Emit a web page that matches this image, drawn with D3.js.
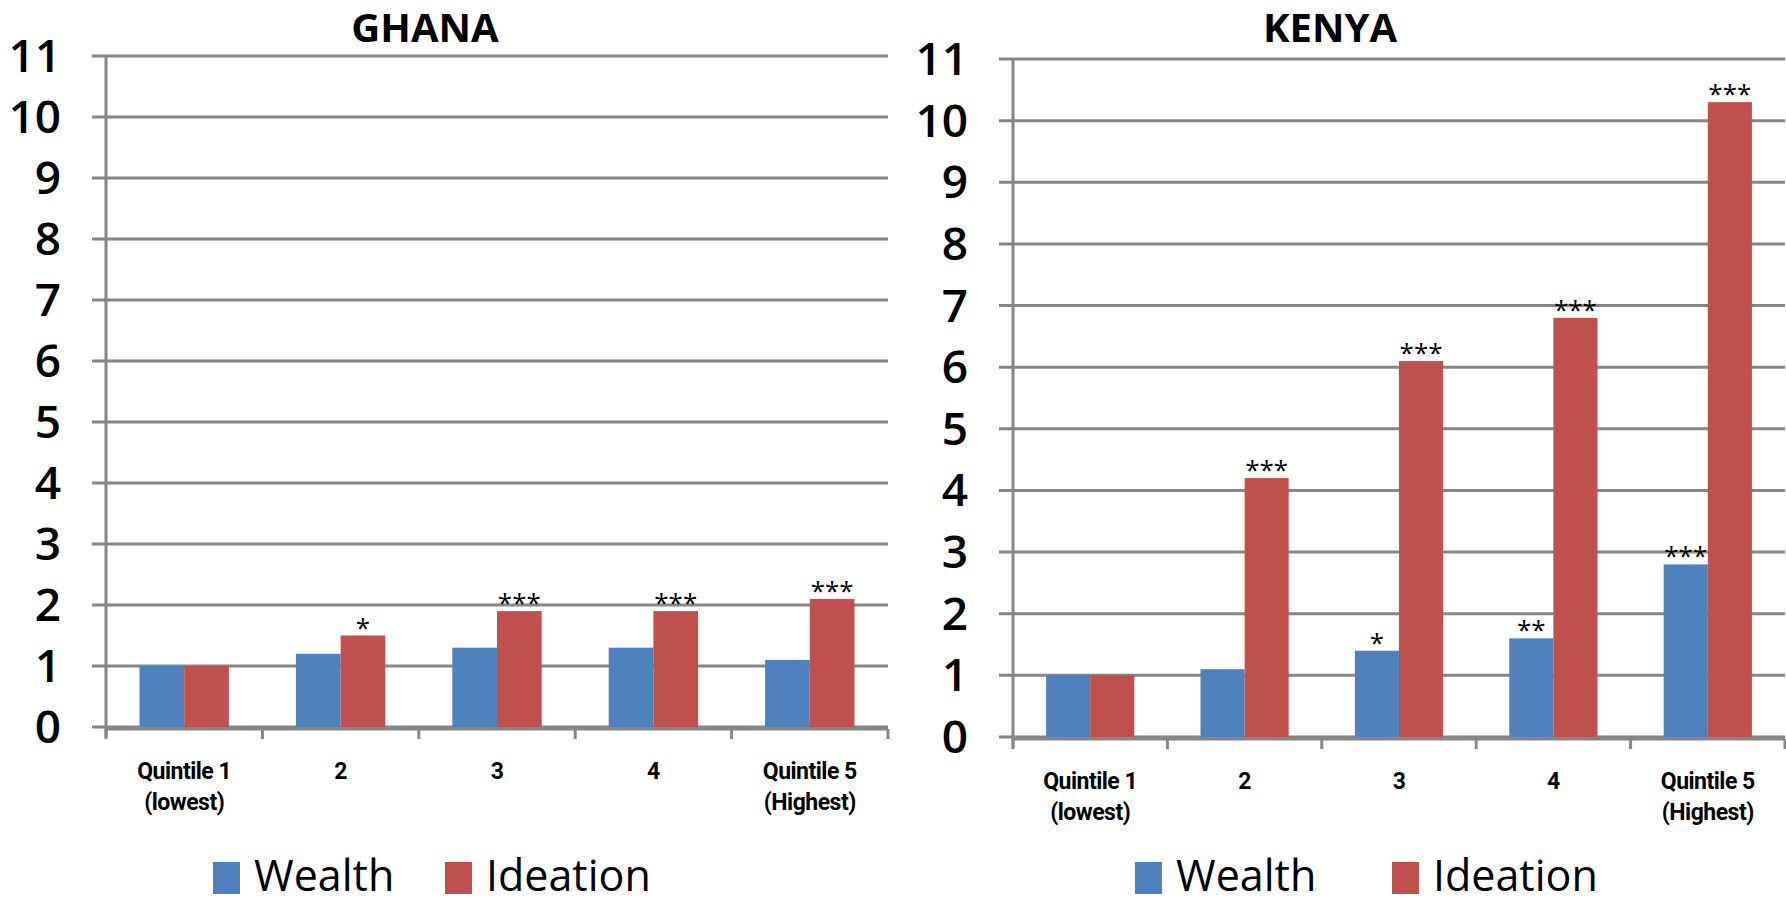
<!DOCTYPE html>
<html>
<head>
<meta charset="utf-8">
<script src="https://cdn.jsdelivr.net/npm/d3@7"></script>
<style>
  body { margin: 0; background: #fff; }
  svg { display: block; }
  text { font-family: "Open Sans", "Liberation Sans", sans-serif; fill: #000; }
</style>
</head>
<body>
<div id="viz"></div>
<script>
// data
var categories = ['Quintile 1|(lowest)', '2', '3', '4', 'Quintile 5|(Highest)'];
var series = ['Wealth', 'Ideation'];
var yTicks = [0, 1, 2, 3, 4, 5, 6, 7, 8, 9, 10, 11];

var ghanaWealth = [1.0, 1.2, 1.3, 1.3, 1.1];
var ghanaIdeation = [1.0, 1.5, 1.9, 1.9, 2.1];
var ghanaWealthStars = ['', '', '', '', ''];
var ghanaIdeationStars = ['', '*', '***', '***', '***'];

var kenyaWealth = [1.0, 1.1, 1.4, 1.6, 2.8];
var kenyaIdeation = [1.0, 4.2, 6.1, 6.8, 10.3];
var kenyaWealthStars = ['', '', '*', '**', '***'];
var kenyaIdeationStars = ['', '***', '***', '***', '***'];

var colors = { Wealth: '#4F81BD', Ideation: '#C0504D' };
var gridColor = '#868686';

var width = 1786;
var height = 899;

var svg = d3.select('#viz')
    .append('svg')
    .attr('width', width)
    .attr('height', height);

svg.append('rect').attr('width', width).attr('height', height).attr('fill', '#fff');

function panel(opts) {
    var x = d3.scaleBand()
        .domain(categories)
        .range([opts.left, opts.right]);

    var bw = x.bandwidth();
    // Excel style: gap width 150% between clusters
    var x1 = d3.scaleBand()
        .domain(series)
        .range([bw * 1.5 / 7, bw - bw * 1.5 / 7]);

    var y = d3.scaleLinear()
        .domain([0, 11])
        .range([opts.bottom, opts.top]);

    var g = svg.append('g');

    // title
    g.append('text')
        .attr('x', opts.titleX)
        .attr('y', 42)
        .attr('text-anchor', 'middle')
        .style('font-size', '40px')
        .style('font-weight', 'bold')
        .text(opts.title);

    // gridlines
    g.selectAll('line.grid')
        .data(yTicks)
        .enter().append('line')
        .attr('class', 'grid')
        .attr('x1', opts.left - 14)
        .attr('x2', opts.right)
        .attr('y1', function (d) { return y(d); })
        .attr('y2', function (d) { return y(d); })
        .attr('stroke', gridColor)
        .attr('stroke-width', 3);

    // y labels
    g.selectAll('text.ylab')
        .data(yTicks)
        .enter().append('text')
        .attr('class', 'ylab')
        .attr('x', opts.left - 45)
        .attr('y', function (d) { return y(d) + 16; })
        .attr('text-anchor', 'end')
        .style('font-size', '46px')
        .style('font-weight', '600')
        .text(function (d) { return d; });

    // bars
    var groups = g.selectAll('g.cat')
        .data(categories.map(function (c, i) {
            return {
                cat: c,
                bars: [
                    { key: 'Wealth', value: opts.wealth[i], stars: opts.wealthStars[i] },
                    { key: 'Ideation', value: opts.ideation[i], stars: opts.ideationStars[i] }
                ]
            };
        }))
        .enter().append('g')
        .attr('class', 'cat')
        .attr('transform', function (d) { return 'translate(' + x(d.cat) + ',0)'; });

    groups.selectAll('rect')
        .data(function (d) { return d.bars; })
        .enter().append('rect')
        .attr('x', function (d) { return x1(d.key); })
        .attr('width', x1.bandwidth())
        .attr('y', function (d) { return y(d.value); })
        .attr('height', function (d) { return y(0) - y(d.value); })
        .attr('fill', function (d) { return colors[d.key]; });

    groups.selectAll('text.star')
        .data(function (d) { return d.bars.filter(function (b) { return b.stars; }); })
        .enter().append('text')
        .attr('class', 'star')
        .attr('x', function (d) { return x1(d.key) + x1.bandwidth() / 2; })
        .attr('y', function (d) { return y(d.value) + 1; })
        .attr('text-anchor', 'middle')
        .style('font-size', '26px')
        .text(function (d) { return d.stars; });

    // axes lines
    g.append('line')
        .attr('x1', opts.left).attr('x2', opts.left)
        .attr('y1', y(11)).attr('y2', y(0) + 10)
        .attr('stroke', gridColor).attr('stroke-width', 3);

    g.append('line')
        .attr('x1', opts.left).attr('x2', opts.right)
        .attr('y1', y(0) + 2).attr('y2', y(0) + 2)
        .attr('stroke', gridColor).attr('stroke-width', 3);

    var edges = categories.map(function (c) { return x(c); }).concat([opts.right]);
    g.selectAll('line.xtick')
        .data(edges)
        .enter().append('line')
        .attr('class', 'xtick')
        .attr('x1', function (d) { return d; })
        .attr('x2', function (d) { return d; })
        .attr('y1', y(0) + 2)
        .attr('y2', y(0) + 12)
        .attr('stroke', gridColor)
        .attr('stroke-width', 3);

    // category labels
    var cl = g.selectAll('text.xlab')
        .data(categories)
        .enter().append('text')
        .attr('class', 'xlab')
        .attr('text-anchor', 'middle')
        .style('font-family', 'Roboto, "Open Sans", sans-serif')
        .style('font-weight', 'bold')
        .style('font-size', '23px')
        .style('letter-spacing', '-0.5px');

    cl.selectAll('tspan')
        .data(function (d) { return d.split('|').map(function (s) { return { cat: d, s: s }; }); })
        .enter().append('tspan')
        .attr('x', function (d) { return x(d.cat) + bw / 2; })
        .attr('y', function (d, i) { return y(0) + 52 + i * 31; })
        .text(function (d) { return d.s; });

    // legend
    var leg = g.selectAll('g.leg')
        .data(series)
        .enter().append('g')
        .attr('class', 'leg')
        .attr('transform', function (d, i) { return 'translate(' + opts.legendX[i] + ',0)'; });

    leg.append('rect')
        .attr('x', 0)
        .attr('y', 862)
        .attr('width', 27)
        .attr('height', 32)
        .attr('fill', function (d) { return colors[d]; });

    leg.append('text')
        .attr('x', 41)
        .attr('y', 891)
        .style('font-size', '43px')
        .text(function (d) { return d; });
}

panel({
    title: 'GHANA', titleX: 425,
    left: 106, right: 888, top: 56, bottom: 727,
    wealth: ghanaWealth, ideation: ghanaIdeation,
    wealthStars: ghanaWealthStars, ideationStars: ghanaIdeationStars,
    legendX: [213, 445]
});

panel({
    title: 'KENYA', titleX: 1330,
    left: 1013, right: 1785, top: 59, bottom: 737,
    wealth: kenyaWealth, ideation: kenyaIdeation,
    wealthStars: kenyaWealthStars, ideationStars: kenyaIdeationStars,
    legendX: [1135, 1392]
});
</script>
</body>
</html>
